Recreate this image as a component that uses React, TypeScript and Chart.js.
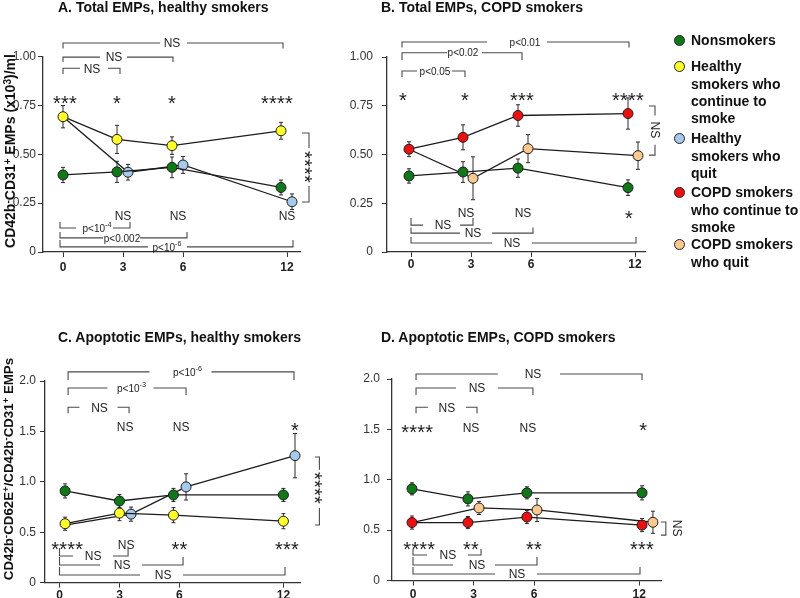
import React, { useEffect, useRef } from 'react';
import { Chart, registerables } from 'chart.js';

Chart.register(...registerables);

const FONT = "'Liberation Sans', Arial, Helvetica, sans-serif";

// ---------- shared axis data ----------
const monthLabels = ['0', '3', '6', '12'];
const monthPositions = [0, 3, 6, 11.2];

// ---------- colours ----------
const colNonsmokers = '#11781a';
const colHealthyCont = '#ffff2a';
const colHealthyQuit = '#a6c9ec';
const colCopdCont = '#ec1010';
const colCopdQuit = '#fbc892';

// ---------- Panel A: Total EMPs, healthy smokers ----------
const aNonX = [0, 2.7, 5.45, 10.9];
const aNonY = [0.394, 0.41, 0.433, 0.33];
const aNonErr = [0.039, 0.054, 0.053, 0.038];
const aContX = [0, 2.7, 5.45, 10.9];
const aContY = [0.692, 0.576, 0.544, 0.62];
const aContErr = [0.057, 0.072, 0.045, 0.043];
const aQuitX = [0, 3.25, 6.0, 11.45];
const aQuitY = [0.692, 0.408, 0.445, 0.257];
const aQuitErr = [null, 0.04, 0.043, 0.04];

const aTopBrackets = [
  { x1: 0, x2: 11.0, y: 1.069, tip: 1.041, text: 'NS', tx: 5.45, g1: 4.85, g2: 6.2 },
  { x1: 0, x2: 5.5, y: 0.997, tip: 0.972, text: 'NS', tx: 2.55, g1: 1.85, g2: 3.2 },
  { x1: 0, x2: 2.85, y: 0.94, tip: 0.91, text: 'NS', tx: 1.45, g1: 0.85, g2: 2.25 },
];
const aBottomBrackets = [
  { x1: -0.15, x2: 3.35, y: 0.123, tip: 0.153, text: 'p<10^-4', tx: 1.7, g1: 0.65, g2: 2.5 },
  { x1: -0.15, x2: 6.2, y: 0.072, tip: 0.102, text: 'p<0.002', tx: 2.95, g1: 2.0, g2: 3.85 },
  { x1: -0.15, x2: 11.5, y: 0.026, tip: 0.061, text: 'p<10^-6', tx: 5.2, g1: 4.25, g2: 6.2 },
];
const aMarks = [
  { x: 0.1, y: 0.783, text: '***' },
  { x: 2.7, y: 0.783, text: '*' },
  { x: 5.45, y: 0.783, text: '*' },
  { x: 10.7, y: 0.783, text: '****' },
  { x: 3.0, y: 0.184, text: 'NS' },
  { x: 5.75, y: 0.184, text: 'NS' },
  { x: 11.2, y: 0.184, text: 'NS' },
];
const aSideBrackets = [
  { x: 12.3, tip: 11.95, y1: 0.609, y2: 0.256, text: '****', tx: 12.3, ty: 0.435, g1: 0.532, g2: 0.338 },
];

// ---------- Panel B: Total EMPs, COPD smokers ----------
const bNonX = [-0.1, 2.6, 5.35, 10.85];
const bNonY = [0.39, 0.41, 0.43, 0.33];
const bNonErr = [0.037, 0.053, 0.047, 0.04];
const bContX = [-0.1, 2.6, 5.35, 10.85];
const bContY = [0.527, 0.588, 0.7, 0.71];
const bContErr = [0.038, 0.064, 0.055, 0.08];
const bQuitX = [-0.1, 3.1, 5.85, 11.35];
const bQuitY = [0.527, 0.378, 0.53, 0.494];
const bQuitErr = [null, 0.11, 0.072, 0.07];

const bTopBrackets = [
  { x1: -0.45, x2: 10.9, y: 1.077, tip: 1.049, text: 'p<0.01', tx: 5.7, g1: 3.8, g2: 6.8 },
  { x1: -0.45, x2: 5.55, y: 1.022, tip: 0.985, text: 'p<0.02', tx: 2.6, g1: 1.8, g2: 3.55 },
  { x1: -0.45, x2: 2.7, y: 0.928, tip: 0.897, text: 'p<0.05', tx: 1.2, g1: 0.3, g2: 2.05 },
];
const bBottomBrackets = [
  { x1: 0, x2: 3.1, y: 0.138, tip: 0.174, text: 'NS', tx: 1.6, g1: 0.6, g2: 2.45 },
  { x1: 0, x2: 6.1, y: 0.097, tip: 0.126, text: 'NS', tx: 3.1, g1: 2.45, g2: 4.05 },
  { x1: 0, x2: 11.25, y: 0.046, tip: 0.077, text: 'NS', tx: 5.05, g1: 4.05, g2: 6.05 },
];
const bMarks = [
  { x: -0.4, y: 0.805, text: '*' },
  { x: 2.7, y: 0.805, text: '*' },
  { x: 5.55, y: 0.805, text: '***' },
  { x: 10.85, y: 0.805, text: '****' },
  { x: 2.75, y: 0.2, text: 'NS' },
  { x: 5.6, y: 0.2, text: 'NS' },
  { x: 10.9, y: 0.2, text: '*' },
];
const bSideBrackets = [
  { x: 12.2, tip: 11.9, y1: 0.749, y2: 0.497, text: 'NS', tx: 12.2, ty: 0.626, g1: 0.7, g2: 0.55 },
];

// ---------- Panel C: Apoptotic EMPs, healthy smokers ----------
const cNonX = [0.28, 3.0, 5.7, 11.2];
const cNonY = [0.91, 0.81, 0.87, 0.87];
const cNonErr = [0.07, 0.065, 0.065, 0.065];
const cContX = [0.28, 3.0, 5.7, 11.2];
const cContY = [0.585, 0.69, 0.67, 0.61];
const cContErr = [0.065, 0.075, 0.075, 0.075];
const cQuitX = [0.28, 3.58, 6.33, 11.78];
const cQuitY = [0.57, 0.68, 0.95, 1.26];
const cQuitErr = [null, 0.07, 0.13, 0.22];

const cTopBrackets = [
  { x1: 0.43, x2: 11.73, y: 2.09, tip: 2.01, text: 'p<10^-6', tx: 6.4, g1: 4.5, g2: 7.6 },
  { x1: 0.43, x2: 6.33, y: 1.93, tip: 1.86, text: 'p<10^-3', tx: 3.6, g1: 2.4, g2: 4.7 },
  { x1: 0.43, x2: 3.48, y: 1.74, tip: 1.68, text: 'NS', tx: 2.0, g1: 1.0, g2: 2.9 },
];
const cBottomBrackets = [
  { x1: 0, x2: 3.43, y: 0.265, tip: 0.344, text: 'NS', tx: 1.68, g1: 0.68, g2: 2.68 },
  { x1: 0, x2: 6.18, y: 0.176, tip: 0.255, text: 'NS', tx: 3.13, g1: 2.03, g2: 4.13 },
  { x1: 0, x2: 11.28, y: 0.076, tip: 0.156, text: 'NS', tx: 5.18, g1: 4.03, g2: 6.18 },
];
const cMarks = [
  { x: 3.28, y: 1.544, text: 'NS' },
  { x: 6.08, y: 1.544, text: 'NS' },
  { x: 11.78, y: 1.56, text: '*' },
  { x: 0.38, y: 0.374, text: '****' },
  { x: 3.33, y: 0.374, text: 'NS' },
  { x: 6.0, y: 0.374, text: '**' },
  { x: 11.38, y: 0.374, text: '***' },
];
const cSideBrackets = [
  { x: 13.0, tip: 12.78, y1: 1.246, y2: 0.572, text: '****', tx: 13.0, ty: 0.94, g1: 1.12, g2: 0.74 },
];

// ---------- Panel D: Apoptotic EMPs, COPD smokers ----------
const dNonX = [-0.05, 2.72, 5.64, 11.34];
const dNonY = [0.91, 0.81, 0.87, 0.87];
const dNonErr = [0.06, 0.07, 0.06, 0.07];
const dContX = [-0.05, 2.72, 5.64, 11.34];
const dContY = [0.575, 0.575, 0.63, 0.55];
const dContErr = [0.065, 0.06, 0.065, 0.065];
const dQuitX = [-0.05, 3.27, 6.14, 11.88];
const dQuitY = [0.575, 0.72, 0.7, 0.578];
const dQuitErr = [null, 0.065, 0.115, 0.11];

const dTopBrackets = [
  { x1: 0.15, x2: 11.34, y: 2.05, tip: 1.99, text: 'NS', tx: 5.94, g1: 4.2, g2: 7.28 },
  { x1: 0.15, x2: 5.94, y: 1.91, tip: 1.84, text: 'NS', tx: 3.17, g1: 2.13, g2: 4.2 },
  { x1: 0.15, x2: 3.17, y: 1.72, tip: 1.66, text: 'NS', tx: 1.68, g1: 0.74, g2: 2.62 },
];
const dBottomBrackets = [
  { x1: 0, x2: 3.37, y: 0.253, tip: 0.313, text: 'NS', tx: 1.73, g1: 0.69, g2: 2.72 },
  { x1: 0, x2: 6.14, y: 0.154, tip: 0.233, text: 'NS', tx: 3.17, g1: 1.98, g2: 4.06 },
  { x1: 0, x2: 11.24, y: 0.065, tip: 0.134, text: 'NS', tx: 5.15, g1: 4.06, g2: 6.14 },
];
const dMarks = [
  { x: 0.2, y: 1.52, text: '****' },
  { x: 2.87, y: 1.52, text: 'NS' },
  { x: 5.69, y: 1.52, text: 'NS' },
  { x: 11.39, y: 1.54, text: '*' },
  { x: 0.3, y: 0.362, text: '****' },
  { x: 2.87, y: 0.362, text: '**' },
  { x: 5.99, y: 0.362, text: '**' },
  { x: 11.34, y: 0.362, text: '***' },
];
const dSideBrackets = [
  { x: 12.52, tip: 12.28, y1: 0.58, y2: 0.45, text: 'NS', tx: 13.07, ty: 0.52, g1: null, g2: null },
];

// ---------- legend ----------
const legendLines = [
  ['Nonsmokers'],
  ['Healthy', 'smokers who', 'continue to', 'smoke'],
  ['Healthy', 'smokers who', 'quit'],
  ['COPD smokers', 'who continue to', 'smoke'],
  ['COPD smokers', 'who quit'],
];
const legendColors = [colNonsmokers, colHealthyCont, colHealthyQuit, colCopdCont, colCopdQuit];
const legendTops = [32.4, 58.4, 130.4, 184.4, 236.4];

// ---------- drawing helpers ----------
function drawText(ctx: any, text: string, x: number, y: number, rotate = false) {
  ctx.save();
  ctx.translate(x, y);
  if (rotate) ctx.rotate(Math.PI / 2);
  ctx.fillStyle = '#222';
  if (/^\*+$/.test(text)) {
    const size = 20;
    const sp = 8;
    ctx.font = `${size}px ${FONT}`;
    ctx.textAlign = 'center';
    ctx.textBaseline = 'alphabetic';
    const n = text.length;
    for (let i = 0; i < n; i++) {
      ctx.fillText('*', (i - (n - 1) / 2) * sp, 0.575 * size);
    }
  } else {
    const size = text.startsWith('p') ? 10 : 12;
    const parts = text.split('^');
    const base = parts[0];
    const sup = parts[1];
    const ss = size * 0.72;
    ctx.font = `${size}px ${FONT}`;
    const bw = ctx.measureText(base).width;
    let sw = 0;
    if (sup) {
      ctx.font = `${ss}px ${FONT}`;
      sw = ctx.measureText(sup).width;
    }
    const x0 = -(bw + sw) / 2;
    ctx.textAlign = 'left';
    ctx.textBaseline = 'alphabetic';
    ctx.font = `${size}px ${FONT}`;
    ctx.fillText(base, x0, 0.36 * size);
    if (sup) {
      ctx.font = `${ss}px ${FONT}`;
      ctx.fillText(sup, x0 + bw, 0.36 * size - 0.42 * size);
    }
  }
  ctx.restore();
}

const errorBarPlugin = {
  id: 'errorBars',
  beforeDatasetsDraw(chart: any) {
    const ctx = chart.ctx;
    const ys = chart.scales.y;
    ctx.save();
    ctx.strokeStyle = '#2a2a2a';
    ctx.lineWidth = 1;
    chart.data.datasets.forEach((ds: any, di: number) => {
      const meta = chart.getDatasetMeta(di);
      meta.data.forEach((pt: any, i: number) => {
        const e = ds.errorBars[i];
        if (e == null) return;
        const v = ds.data[i].y;
        const x = pt.x;
        const yt = ys.getPixelForValue(v + e);
        const yb = ys.getPixelForValue(v - e);
        ctx.beginPath();
        ctx.moveTo(x, yt);
        ctx.lineTo(x, yb);
        ctx.moveTo(x - 2, yt);
        ctx.lineTo(x + 2, yt);
        ctx.moveTo(x - 2, yb);
        ctx.lineTo(x + 2, yb);
        ctx.stroke();
      });
    });
    ctx.restore();
  },
};

function annotationPlugin(spec: any) {
  return {
    id: 'sigAnnotations',
    afterDraw(chart: any) {
      const ctx = chart.ctx;
      const xs = chart.scales.x;
      const ys = chart.scales.y;
      const X = (v: number) => xs.getPixelForValue(v);
      const Y = (v: number) => ys.getPixelForValue(v);
      ctx.save();
      ctx.strokeStyle = '#4a4a4a';
      ctx.lineWidth = 1.1;
      [...spec.topBrackets, ...spec.bottomBrackets].forEach((b: any) => {
        ctx.beginPath();
        ctx.moveTo(X(b.x1), Y(b.tip));
        ctx.lineTo(X(b.x1), Y(b.y));
        ctx.lineTo(X(b.g1), Y(b.y));
        ctx.moveTo(X(b.g2), Y(b.y));
        ctx.lineTo(X(b.x2), Y(b.y));
        ctx.lineTo(X(b.x2), Y(b.tip));
        ctx.stroke();
        drawText(ctx, b.text, X(b.tx), Y(b.y));
      });
      spec.sideBrackets.forEach((s: any) => {
        ctx.beginPath();
        ctx.moveTo(X(s.tip), Y(s.y1));
        ctx.lineTo(X(s.x), Y(s.y1));
        if (s.g1 != null) {
          ctx.lineTo(X(s.x), Y(s.g1));
          ctx.moveTo(X(s.x), Y(s.g2));
        }
        ctx.lineTo(X(s.x), Y(s.y2));
        ctx.lineTo(X(s.tip), Y(s.y2));
        ctx.stroke();
        drawText(ctx, s.text, X(s.tx), Y(s.ty), true);
      });
      spec.marks.forEach((m: any) => drawText(ctx, m.text, X(m.x), Y(m.y)));
      ctx.restore();
    },
  };
}

function makeConfig(spec: any) {
  const axisColor = '#333';
  return {
    type: 'scatter',
    data: {
      datasets: spec.series.map((s: any) => ({
        data: s.xs.map((x: number, i: number) => ({ x, y: s.ys[i] })),
        showLine: true,
        borderColor: '#1c1c1c',
        borderWidth: 1.3,
        pointRadius: s.err.map((e: any) => (e === null ? 0 : 5)),
        pointHoverRadius: 0,
        pointBackgroundColor: s.color,
        pointBorderColor: '#1c1c1c',
        pointBorderWidth: 1,
        errorBars: s.err,
        tension: 0,
        clip: false,
      })),
    },
    options: {
      animation: false,
      responsive: false,
      maintainAspectRatio: false,
      events: [],
      layout: { padding: { top: spec.padTop, right: spec.padRight, bottom: 0, left: 0 } },
      plugins: { legend: { display: false }, tooltip: { enabled: false }, title: { display: false } },
      scales: {
        x: {
          type: 'linear',
          min: spec.xMin,
          max: spec.xMax,
          afterBuildTicks: (sc: any) => {
            sc.ticks = monthPositions.map((v) => ({ value: v }));
          },
          afterFit: (sc: any) => {
            sc.height = spec.xAxisH;
          },
          ticks: {
            autoSkip: false,
            maxRotation: 0,
            callback: (_v: any, i: number) => monthLabels[i],
            font: { family: FONT, size: 12, weight: 'bold' },
            color: '#222',
            padding: spec.xTickPad,
          },
          grid: { display: true, drawOnChartArea: false, drawTicks: true, tickLength: 5, color: axisColor, lineWidth: 1 },
          border: { display: true, color: axisColor, width: 1.3 },
        },
        y: {
          type: 'linear',
          min: 0,
          max: spec.yMax,
          afterFit: (sc: any) => {
            sc.width = spec.yAxisW;
          },
          ticks: {
            stepSize: spec.yStep,
            callback: (v: number) => (v === 0 ? '0' : Number(v).toFixed(spec.yDecimals)),
            font: { family: FONT, size: 12 },
            color: '#333',
            padding: spec.yTickPad,
          },
          grid: { display: true, drawOnChartArea: false, drawTicks: true, tickLength: 5, color: axisColor, lineWidth: 1 },
          border: { display: true, color: axisColor, width: 1.3 },
        },
      },
    },
    plugins: [errorBarPlugin, annotationPlugin(spec)],
  };
}

const panelA = {
  left: 0, top: 0, width: 345, height: 282,
  yAxisW: 43, padTop: 56.5, padRight: 45, xAxisH: 30,
  xMin: -1.0, xMax: 11.85, yMax: 1, yStep: 0.25, yDecimals: 2, yTickPad: 2, xTickPad: 3,
  series: [
    { xs: aNonX, ys: aNonY, err: aNonErr, color: colNonsmokers },
    { xs: aContX, ys: aContY, err: aContErr, color: colHealthyCont },
    { xs: aQuitX, ys: aQuitY, err: aQuitErr, color: colHealthyQuit },
  ],
  topBrackets: aTopBrackets, bottomBrackets: aBottomBrackets, marks: aMarks, sideBrackets: aSideBrackets,
};
const panelB = {
  left: 345, top: 0, width: 345, height: 282,
  yAxisW: 42, padTop: 57, padRight: 45, xAxisH: 30,
  xMin: -1.2, xMax: 11.7, yMax: 1, yStep: 0.25, yDecimals: 2, yTickPad: 9, xTickPad: 0,
  series: [
    { xs: bNonX, ys: bNonY, err: bNonErr, color: colNonsmokers },
    { xs: bContX, ys: bContY, err: bContErr, color: colCopdCont },
    { xs: bQuitX, ys: bQuitY, err: bQuitErr, color: colCopdQuit },
  ],
  topBrackets: bTopBrackets, bottomBrackets: bBottomBrackets, marks: bMarks, sideBrackets: bSideBrackets,
};
const panelC = {
  left: 0, top: 300, width: 345, height: 298,
  yAxisW: 45, padTop: 81, padRight: 45, xAxisH: 15.3,
  xMin: -0.725, xMax: 12.03, yMax: 2, yStep: 0.5, yDecimals: 1, yTickPad: 4, xTickPad: 1,
  series: [
    { xs: cNonX, ys: cNonY, err: cNonErr, color: colNonsmokers },
    { xs: cContX, ys: cContY, err: cContErr, color: colHealthyCont },
    { xs: cQuitX, ys: cQuitY, err: cQuitErr, color: colHealthyQuit },
  ],
  topBrackets: cTopBrackets, bottomBrackets: cBottomBrackets, marks: cMarks, sideBrackets: cSideBrackets,
};
const panelD = {
  left: 345, top: 300, width: 355, height: 298,
  yAxisW: 47, padTop: 79, padRight: 39, xAxisH: 17.5,
  xMin: -1.04, xMax: 12.28, yMax: 2, yStep: 0.5, yDecimals: 1, yTickPad: 7, xTickPad: 2,
  series: [
    { xs: dNonX, ys: dNonY, err: dNonErr, color: colNonsmokers },
    { xs: dContX, ys: dContY, err: dContErr, color: colCopdCont },
    { xs: dQuitX, ys: dQuitY, err: dQuitErr, color: colCopdQuit },
  ],
  topBrackets: dTopBrackets, bottomBrackets: dBottomBrackets, marks: dMarks, sideBrackets: dSideBrackets,
};

function Panel({ spec }: { spec: any }) {
  const ref = useRef<HTMLCanvasElement | null>(null);
  useEffect(() => {
    if (!ref.current) return;
    const chart = new Chart(ref.current, makeConfig(spec) as any);
    return () => chart.destroy();
  }, [spec]);
  return (
    <canvas
      ref={ref}
      width={spec.width}
      height={spec.height}
      style={{ position: 'absolute', left: spec.left, top: spec.top, width: spec.width, height: spec.height }}
    />
  );
}

const supStyle: React.CSSProperties = { fontSize: '0.72em', verticalAlign: '0.42em', lineHeight: 0 };

function Title({ left, top, text }: { left: number; top: number; text: string }) {
  return (
    <div style={{ position: 'absolute', left, top, fontWeight: 'bold', fontSize: 14, lineHeight: '16px', whiteSpace: 'nowrap', color: '#111' }}>
      {text}
    </div>
  );
}

export default function App() {
  return (
    <div style={{ position: 'absolute', left: 0, top: 0, width: 800, height: 598, overflow: 'hidden', background: '#fff', fontFamily: FONT }}>
      <Panel spec={panelA} />
      <Panel spec={panelB} />
      <Panel spec={panelC} />
      <Panel spec={panelD} />

      <Title left={58} top={-1} text="A. Total EMPs, healthy smokers" />
      <Title left={381} top={-1} text="B. Total EMPs, COPD smokers" />
      <Title left={58} top={329} text="C. Apoptotic EMPs, healthy smokers" />
      <Title left={381} top={329} text="D. Apoptotic EMPs, COPD smokers" />

      <div style={{ position: 'absolute', left: 10, top: 151, transform: 'translate(-50%, -50%) rotate(-90deg)', whiteSpace: 'nowrap', fontWeight: 'bold', fontSize: 14, lineHeight: '16px', color: '#111' }}>
        CD42b<span style={supStyle}>-</span>CD31<span style={supStyle}>+</span> EMPs (x10<span style={supStyle}>3</span>)/ml
      </div>
      <div style={{ position: 'absolute', left: 8.5, top: 469, transform: 'translate(-50%, -50%) rotate(-90deg)', whiteSpace: 'nowrap', fontWeight: 'bold', fontSize: 13.3, lineHeight: '16px', color: '#111' }}>
        CD42b<span style={supStyle}>-</span>CD62E<span style={supStyle}>+</span>/CD42b<span style={supStyle}>-</span>CD31<span style={supStyle}>+</span> EMPs
      </div>

      {legendLines.map((lines, i) => (
        <React.Fragment key={i}>
          <div style={{ position: 'absolute', left: 673.5, top: legendTops[i] + 3, width: 11, height: 11, boxSizing: 'border-box', borderRadius: '50%', border: '1px solid #222', background: legendColors[i] }} />
          <div style={{ position: 'absolute', left: 691, top: legendTops[i], fontWeight: 'bold', fontSize: 14, lineHeight: '17.3px', whiteSpace: 'nowrap', color: '#111' }}>
            {lines.map((l, j) => (
              <div key={j}>{l}</div>
            ))}
          </div>
        </React.Fragment>
      ))}
    </div>
  );
}
